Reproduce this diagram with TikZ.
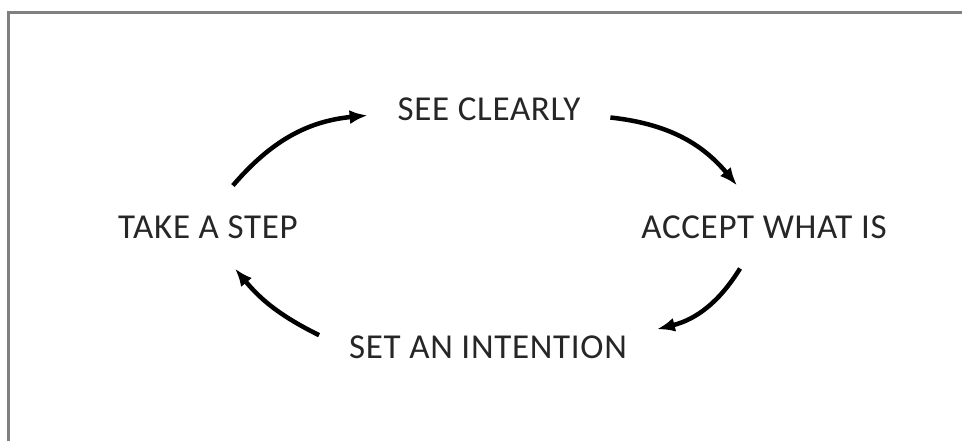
\documentclass[tikz,border=0pt]{standalone}
\usepackage{fontspec}
\newfontfamily\stagefont[LetterSpace=2]{Carlito}
\usetikzlibrary{arrows.meta}

\begin{document}
\begin{tikzpicture}[x=1pt,y=-1pt,
  stage/.style={font=\stagefont\fontsize{35}{40}\selectfont,text=black!85,
    inner xsep=30pt,inner ysep=30pt,outer sep=0pt},
  cyc/.style={line width=4.5pt,-{Latex[length=18pt,width=14pt]},bend left=22}]
\useasboundingbox (0,0) rectangle (962,440);
% frame, cut off at the right and bottom
\draw[black!50,line width=3pt] (8,455) -- (8,12) -- (975,12);
% the four stages
\node[stage] (see) at (489,109) {SEE CLEARLY};
\node[stage] (accept) at (764,227) {ACCEPT WHAT IS};
\node[stage] (set) at (488,347) {SET AN INTENTION};
\node[stage] (take) at (208,227) {TAKE A STEP};
% cycle, clockwise
\draw[cyc] (take.59) to (see.183);
\draw[cyc] (see.-4) to (accept.123);
\draw[cyc] (accept.240) to (set.6);
\draw[cyc,bend left=12] (set.176) to (take.-57);
\end{tikzpicture}
\end{document}
